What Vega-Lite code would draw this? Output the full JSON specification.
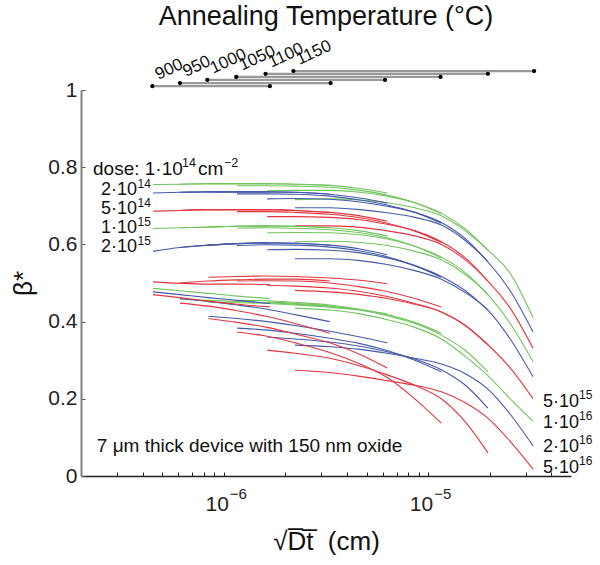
{
"$schema":"https://vega.github.io/schema/vega-lite/v6.json",
"autosize":{"type":"none"},
"padding":{"left":81,"top":90,"right":29,"bottom":89},
"width":490,"height":386,
"config":{"view":{"stroke":null},"font":"Liberation Sans","text":{"font":"Liberation Sans"}},
"title":{"text":"Annealing Temperature (°C)","fontSize":27,"font":"Liberation Sans","fontWeight":"normal","color":"#111","offset":6,"anchor":"middle"},
"datasets":{
"curves":[
{"d":"1e14","T":900,"x":4.5e-7,"y":0.755},{"d":"1e14","T":900,"x":6.1e-7,"y":0.756},{"d":"1e14","T":900,"x":8.4e-7,"y":0.757},{"d":"1e14","T":900,"x":1.16e-6,"y":0.757},{"d":"1e14","T":900,"x":1.68e-6,"y":0.757},
{"d":"1e14","T":950,"x":6.1e-7,"y":0.756},{"d":"1e14","T":950,"x":8.4e-7,"y":0.757},{"d":"1e14","T":950,"x":1.16e-6,"y":0.757},{"d":"1e14","T":950,"x":1.63e-6,"y":0.757},{"d":"1e14","T":950,"x":2.23e-6,"y":0.756},{"d":"1e14","T":950,"x":3.3e-6,"y":0.753},
{"d":"1e14","T":1000,"x":8.4e-7,"y":0.757},{"d":"1e14","T":1000,"x":1.16e-6,"y":0.757},{"d":"1e14","T":1000,"x":1.63e-6,"y":0.757},{"d":"1e14","T":1000,"x":2.23e-6,"y":0.756},{"d":"1e14","T":1000,"x":3.3e-6,"y":0.753},{"d":"1e14","T":1000,"x":4.64e-6,"y":0.745},{"d":"1e14","T":1000,"x":6.3e-6,"y":0.733},
{"d":"1e14","T":1050,"x":1.16e-6,"y":0.752},{"d":"1e14","T":1050,"x":1.63e-6,"y":0.752},{"d":"1e14","T":1050,"x":2.23e-6,"y":0.751},{"d":"1e14","T":1050,"x":3.3e-6,"y":0.748},{"d":"1e14","T":1050,"x":4.64e-6,"y":0.74},{"d":"1e14","T":1050,"x":6.3e-6,"y":0.728},{"d":"1e14","T":1050,"x":8.6e-6,"y":0.708},{"d":"1e14","T":1050,"x":1.16e-5,"y":0.679},
{"d":"1e14","T":1100,"x":1.63e-6,"y":0.739},{"d":"1e14","T":1100,"x":2.23e-6,"y":0.74},{"d":"1e14","T":1100,"x":3.3e-6,"y":0.74},{"d":"1e14","T":1100,"x":4.64e-6,"y":0.735},{"d":"1e14","T":1100,"x":6.3e-6,"y":0.725},{"d":"1e14","T":1100,"x":8.6e-6,"y":0.708},{"d":"1e14","T":1100,"x":1.16e-5,"y":0.681},{"d":"1e14","T":1100,"x":1.52e-5,"y":0.64},{"d":"1e14","T":1100,"x":1.96e-5,"y":0.585},
{"d":"1e14","T":1150,"x":2.23e-6,"y":0.716},{"d":"1e14","T":1150,"x":3.3e-6,"y":0.718},{"d":"1e14","T":1150,"x":4.64e-6,"y":0.715},{"d":"1e14","T":1150,"x":6.3e-6,"y":0.708},{"d":"1e14","T":1150,"x":8.6e-6,"y":0.695},{"d":"1e14","T":1150,"x":1.16e-5,"y":0.674},{"d":"1e14","T":1150,"x":1.52e-5,"y":0.635},{"d":"1e14","T":1150,"x":1.96e-5,"y":0.585},{"d":"1e14","T":1150,"x":2.52e-5,"y":0.525},{"d":"1e14","T":1150,"x":3.26e-5,"y":0.41},

{"d":"2e14","T":900,"x":4.5e-7,"y":0.733},{"d":"2e14","T":900,"x":6.1e-7,"y":0.735},{"d":"2e14","T":900,"x":8.4e-7,"y":0.736},{"d":"2e14","T":900,"x":1.16e-6,"y":0.736},{"d":"2e14","T":900,"x":1.68e-6,"y":0.736},
{"d":"2e14","T":950,"x":6.1e-7,"y":0.735},{"d":"2e14","T":950,"x":8.4e-7,"y":0.736},{"d":"2e14","T":950,"x":1.16e-6,"y":0.736},{"d":"2e14","T":950,"x":1.63e-6,"y":0.736},{"d":"2e14","T":950,"x":2.23e-6,"y":0.735},{"d":"2e14","T":950,"x":3.3e-6,"y":0.73},
{"d":"2e14","T":1000,"x":8.4e-7,"y":0.736},{"d":"2e14","T":1000,"x":1.16e-6,"y":0.736},{"d":"2e14","T":1000,"x":1.63e-6,"y":0.736},{"d":"2e14","T":1000,"x":2.23e-6,"y":0.735},{"d":"2e14","T":1000,"x":3.3e-6,"y":0.73},{"d":"2e14","T":1000,"x":4.64e-6,"y":0.72},{"d":"2e14","T":1000,"x":6.3e-6,"y":0.707},
{"d":"2e14","T":1050,"x":1.16e-6,"y":0.731},{"d":"2e14","T":1050,"x":1.63e-6,"y":0.731},{"d":"2e14","T":1050,"x":2.23e-6,"y":0.73},{"d":"2e14","T":1050,"x":3.3e-6,"y":0.725},{"d":"2e14","T":1050,"x":4.64e-6,"y":0.715},{"d":"2e14","T":1050,"x":6.3e-6,"y":0.702},{"d":"2e14","T":1050,"x":8.6e-6,"y":0.683},{"d":"2e14","T":1050,"x":1.16e-5,"y":0.655},
{"d":"2e14","T":1100,"x":1.63e-6,"y":0.718},{"d":"2e14","T":1100,"x":2.23e-6,"y":0.719},{"d":"2e14","T":1100,"x":3.3e-6,"y":0.717},{"d":"2e14","T":1100,"x":4.64e-6,"y":0.71},{"d":"2e14","T":1100,"x":6.3e-6,"y":0.699},{"d":"2e14","T":1100,"x":8.6e-6,"y":0.683},{"d":"2e14","T":1100,"x":1.16e-5,"y":0.657},{"d":"2e14","T":1100,"x":1.52e-5,"y":0.615},{"d":"2e14","T":1100,"x":1.96e-5,"y":0.555},
{"d":"2e14","T":1150,"x":2.23e-6,"y":0.695},{"d":"2e14","T":1150,"x":3.3e-6,"y":0.695},{"d":"2e14","T":1150,"x":4.64e-6,"y":0.69},{"d":"2e14","T":1150,"x":6.3e-6,"y":0.682},{"d":"2e14","T":1150,"x":8.6e-6,"y":0.67},{"d":"2e14","T":1150,"x":1.16e-5,"y":0.65},{"d":"2e14","T":1150,"x":1.52e-5,"y":0.61},{"d":"2e14","T":1150,"x":1.96e-5,"y":0.555},{"d":"2e14","T":1150,"x":2.52e-5,"y":0.48},{"d":"2e14","T":1150,"x":3.26e-5,"y":0.373},

{"d":"5e14","T":900,"x":4.5e-7,"y":0.686},{"d":"5e14","T":900,"x":6.1e-7,"y":0.688},{"d":"5e14","T":900,"x":8.4e-7,"y":0.69},{"d":"5e14","T":900,"x":1.16e-6,"y":0.69},{"d":"5e14","T":900,"x":1.68e-6,"y":0.69},
{"d":"5e14","T":950,"x":6.1e-7,"y":0.688},{"d":"5e14","T":950,"x":8.4e-7,"y":0.69},{"d":"5e14","T":950,"x":1.16e-6,"y":0.69},{"d":"5e14","T":950,"x":1.63e-6,"y":0.69},{"d":"5e14","T":950,"x":2.23e-6,"y":0.688},{"d":"5e14","T":950,"x":3.3e-6,"y":0.683},
{"d":"5e14","T":1000,"x":8.4e-7,"y":0.69},{"d":"5e14","T":1000,"x":1.16e-6,"y":0.69},{"d":"5e14","T":1000,"x":1.63e-6,"y":0.69},{"d":"5e14","T":1000,"x":2.23e-6,"y":0.688},{"d":"5e14","T":1000,"x":3.3e-6,"y":0.683},{"d":"5e14","T":1000,"x":4.64e-6,"y":0.674},{"d":"5e14","T":1000,"x":6.3e-6,"y":0.66},
{"d":"5e14","T":1050,"x":1.16e-6,"y":0.685},{"d":"5e14","T":1050,"x":1.63e-6,"y":0.685},{"d":"5e14","T":1050,"x":2.23e-6,"y":0.683},{"d":"5e14","T":1050,"x":3.3e-6,"y":0.678},{"d":"5e14","T":1050,"x":4.64e-6,"y":0.669},{"d":"5e14","T":1050,"x":6.3e-6,"y":0.655},{"d":"5e14","T":1050,"x":8.6e-6,"y":0.635},{"d":"5e14","T":1050,"x":1.16e-5,"y":0.605},
{"d":"5e14","T":1100,"x":1.63e-6,"y":0.672},{"d":"5e14","T":1100,"x":2.23e-6,"y":0.672},{"d":"5e14","T":1100,"x":3.3e-6,"y":0.67},{"d":"5e14","T":1100,"x":4.64e-6,"y":0.664},{"d":"5e14","T":1100,"x":6.3e-6,"y":0.652},{"d":"5e14","T":1100,"x":8.6e-6,"y":0.635},{"d":"5e14","T":1100,"x":1.16e-5,"y":0.607},{"d":"5e14","T":1100,"x":1.52e-5,"y":0.565},{"d":"5e14","T":1100,"x":1.96e-5,"y":0.505},
{"d":"5e14","T":1150,"x":2.23e-6,"y":0.648},{"d":"5e14","T":1150,"x":3.3e-6,"y":0.648},{"d":"5e14","T":1150,"x":4.64e-6,"y":0.644},{"d":"5e14","T":1150,"x":6.3e-6,"y":0.635},{"d":"5e14","T":1150,"x":8.6e-6,"y":0.622},{"d":"5e14","T":1150,"x":1.16e-5,"y":0.6},{"d":"5e14","T":1150,"x":1.52e-5,"y":0.56},{"d":"5e14","T":1150,"x":1.96e-5,"y":0.505},{"d":"5e14","T":1150,"x":2.52e-5,"y":0.435},{"d":"5e14","T":1150,"x":3.26e-5,"y":0.331},

{"d":"1e15","T":900,"x":4.5e-7,"y":0.641},{"d":"1e15","T":900,"x":6.1e-7,"y":0.643},{"d":"1e15","T":900,"x":8.4e-7,"y":0.645},{"d":"1e15","T":900,"x":1.16e-6,"y":0.647},{"d":"1e15","T":900,"x":1.68e-6,"y":0.648},
{"d":"1e15","T":950,"x":6.1e-7,"y":0.643},{"d":"1e15","T":950,"x":8.4e-7,"y":0.645},{"d":"1e15","T":950,"x":1.16e-6,"y":0.647},{"d":"1e15","T":950,"x":1.63e-6,"y":0.648},{"d":"1e15","T":950,"x":2.23e-6,"y":0.647},{"d":"1e15","T":950,"x":3.3e-6,"y":0.643},
{"d":"1e15","T":1000,"x":8.4e-7,"y":0.645},{"d":"1e15","T":1000,"x":1.16e-6,"y":0.647},{"d":"1e15","T":1000,"x":1.63e-6,"y":0.648},{"d":"1e15","T":1000,"x":2.23e-6,"y":0.647},{"d":"1e15","T":1000,"x":3.3e-6,"y":0.643},{"d":"1e15","T":1000,"x":4.64e-6,"y":0.635},{"d":"1e15","T":1000,"x":6.3e-6,"y":0.622},
{"d":"1e15","T":1050,"x":1.16e-6,"y":0.642},{"d":"1e15","T":1050,"x":1.63e-6,"y":0.643},{"d":"1e15","T":1050,"x":2.23e-6,"y":0.642},{"d":"1e15","T":1050,"x":3.3e-6,"y":0.638},{"d":"1e15","T":1050,"x":4.64e-6,"y":0.63},{"d":"1e15","T":1050,"x":6.3e-6,"y":0.617},{"d":"1e15","T":1050,"x":8.6e-6,"y":0.595},{"d":"1e15","T":1050,"x":1.16e-5,"y":0.565},
{"d":"1e15","T":1100,"x":1.63e-6,"y":0.63},{"d":"1e15","T":1100,"x":2.23e-6,"y":0.631},{"d":"1e15","T":1100,"x":3.3e-6,"y":0.63},{"d":"1e15","T":1100,"x":4.64e-6,"y":0.625},{"d":"1e15","T":1100,"x":6.3e-6,"y":0.614},{"d":"1e15","T":1100,"x":8.6e-6,"y":0.595},{"d":"1e15","T":1100,"x":1.16e-5,"y":0.567},{"d":"1e15","T":1100,"x":1.52e-5,"y":0.527},{"d":"1e15","T":1100,"x":1.96e-5,"y":0.47},
{"d":"1e15","T":1150,"x":2.23e-6,"y":0.607},{"d":"1e15","T":1150,"x":3.3e-6,"y":0.608},{"d":"1e15","T":1150,"x":4.64e-6,"y":0.605},{"d":"1e15","T":1150,"x":6.3e-6,"y":0.597},{"d":"1e15","T":1150,"x":8.6e-6,"y":0.582},{"d":"1e15","T":1150,"x":1.16e-5,"y":0.56},{"d":"1e15","T":1150,"x":1.52e-5,"y":0.522},{"d":"1e15","T":1150,"x":1.96e-5,"y":0.47},{"d":"1e15","T":1150,"x":2.52e-5,"y":0.395},{"d":"1e15","T":1150,"x":3.26e-5,"y":0.296},

{"d":"2e15","T":900,"x":4.5e-7,"y":0.582},{"d":"2e15","T":900,"x":6.1e-7,"y":0.592},{"d":"2e15","T":900,"x":8.4e-7,"y":0.598},{"d":"2e15","T":900,"x":1.16e-6,"y":0.602},{"d":"2e15","T":900,"x":1.68e-6,"y":0.604},
{"d":"2e15","T":950,"x":6.1e-7,"y":0.592},{"d":"2e15","T":950,"x":8.4e-7,"y":0.598},{"d":"2e15","T":950,"x":1.16e-6,"y":0.602},{"d":"2e15","T":950,"x":1.63e-6,"y":0.604},{"d":"2e15","T":950,"x":2.23e-6,"y":0.603},{"d":"2e15","T":950,"x":3.3e-6,"y":0.598},
{"d":"2e15","T":1000,"x":8.4e-7,"y":0.598},{"d":"2e15","T":1000,"x":1.16e-6,"y":0.602},{"d":"2e15","T":1000,"x":1.63e-6,"y":0.604},{"d":"2e15","T":1000,"x":2.23e-6,"y":0.603},{"d":"2e15","T":1000,"x":3.3e-6,"y":0.598},{"d":"2e15","T":1000,"x":4.64e-6,"y":0.588},{"d":"2e15","T":1000,"x":6.3e-6,"y":0.573},
{"d":"2e15","T":1050,"x":1.16e-6,"y":0.597},{"d":"2e15","T":1050,"x":1.63e-6,"y":0.599},{"d":"2e15","T":1050,"x":2.23e-6,"y":0.598},{"d":"2e15","T":1050,"x":3.3e-6,"y":0.593},{"d":"2e15","T":1050,"x":4.64e-6,"y":0.583},{"d":"2e15","T":1050,"x":6.3e-6,"y":0.568},{"d":"2e15","T":1050,"x":8.6e-6,"y":0.545},{"d":"2e15","T":1050,"x":1.16e-5,"y":0.515},
{"d":"2e15","T":1100,"x":1.63e-6,"y":0.586},{"d":"2e15","T":1100,"x":2.23e-6,"y":0.587},{"d":"2e15","T":1100,"x":3.3e-6,"y":0.585},{"d":"2e15","T":1100,"x":4.64e-6,"y":0.578},{"d":"2e15","T":1100,"x":6.3e-6,"y":0.565},{"d":"2e15","T":1100,"x":8.6e-6,"y":0.545},{"d":"2e15","T":1100,"x":1.16e-5,"y":0.517},{"d":"2e15","T":1100,"x":1.52e-5,"y":0.48},{"d":"2e15","T":1100,"x":1.96e-5,"y":0.43},
{"d":"2e15","T":1150,"x":2.23e-6,"y":0.563},{"d":"2e15","T":1150,"x":3.3e-6,"y":0.563},{"d":"2e15","T":1150,"x":4.64e-6,"y":0.558},{"d":"2e15","T":1150,"x":6.3e-6,"y":0.548},{"d":"2e15","T":1150,"x":8.6e-6,"y":0.532},{"d":"2e15","T":1150,"x":1.16e-5,"y":0.51},{"d":"2e15","T":1150,"x":1.52e-5,"y":0.475},{"d":"2e15","T":1150,"x":1.96e-5,"y":0.43},{"d":"2e15","T":1150,"x":2.52e-5,"y":0.355},{"d":"2e15","T":1150,"x":3.26e-5,"y":0.257},

{"d":"5e15","T":900,"x":4.5e-7,"y":0.503},{"d":"5e15","T":900,"x":6.1e-7,"y":0.499},{"d":"5e15","T":900,"x":8.4e-7,"y":0.497},{"d":"5e15","T":900,"x":1.16e-6,"y":0.497},{"d":"5e15","T":900,"x":1.68e-6,"y":0.496},
{"d":"5e15","T":950,"x":6.1e-7,"y":0.5},{"d":"5e15","T":950,"x":8.4e-7,"y":0.505},{"d":"5e15","T":950,"x":1.16e-6,"y":0.508},{"d":"5e15","T":950,"x":1.63e-6,"y":0.51},{"d":"5e15","T":950,"x":2.23e-6,"y":0.51},{"d":"5e15","T":950,"x":3.3e-6,"y":0.505},
{"d":"5e15","T":1000,"x":8.4e-7,"y":0.515},{"d":"5e15","T":1000,"x":1.16e-6,"y":0.517},{"d":"5e15","T":1000,"x":1.63e-6,"y":0.518},{"d":"5e15","T":1000,"x":2.23e-6,"y":0.517},{"d":"5e15","T":1000,"x":3.3e-6,"y":0.513},{"d":"5e15","T":1000,"x":4.64e-6,"y":0.507},{"d":"5e15","T":1000,"x":6.3e-6,"y":0.498},
{"d":"5e15","T":1050,"x":1.16e-6,"y":0.505},{"d":"5e15","T":1050,"x":1.63e-6,"y":0.506},{"d":"5e15","T":1050,"x":2.23e-6,"y":0.505},{"d":"5e15","T":1050,"x":3.3e-6,"y":0.5},{"d":"5e15","T":1050,"x":4.64e-6,"y":0.49},{"d":"5e15","T":1050,"x":6.3e-6,"y":0.478},{"d":"5e15","T":1050,"x":8.6e-6,"y":0.46},{"d":"5e15","T":1050,"x":1.16e-5,"y":0.438},
{"d":"5e15","T":1100,"x":1.63e-6,"y":0.494},{"d":"5e15","T":1100,"x":2.23e-6,"y":0.492},{"d":"5e15","T":1100,"x":3.3e-6,"y":0.487},{"d":"5e15","T":1100,"x":4.64e-6,"y":0.478},{"d":"5e15","T":1100,"x":6.3e-6,"y":0.465},{"d":"5e15","T":1100,"x":8.6e-6,"y":0.447},{"d":"5e15","T":1100,"x":1.16e-5,"y":0.425},{"d":"5e15","T":1100,"x":1.52e-5,"y":0.39},{"d":"5e15","T":1100,"x":1.96e-5,"y":0.34},
{"d":"5e15","T":1150,"x":2.23e-6,"y":0.481},{"d":"5e15","T":1150,"x":3.3e-6,"y":0.477},{"d":"5e15","T":1150,"x":4.64e-6,"y":0.47},{"d":"5e15","T":1150,"x":6.3e-6,"y":0.46},{"d":"5e15","T":1150,"x":8.6e-6,"y":0.445},{"d":"5e15","T":1150,"x":1.16e-5,"y":0.425},{"d":"5e15","T":1150,"x":1.52e-5,"y":0.39},{"d":"5e15","T":1150,"x":1.96e-5,"y":0.34},{"d":"5e15","T":1150,"x":2.52e-5,"y":0.28},{"d":"5e15","T":1150,"x":3.26e-5,"y":0.2},

{"d":"1e16","T":900,"x":4.5e-7,"y":0.486},{"d":"1e16","T":900,"x":6.1e-7,"y":0.48},{"d":"1e16","T":900,"x":8.4e-7,"y":0.473},{"d":"1e16","T":900,"x":1.16e-6,"y":0.466},{"d":"1e16","T":900,"x":1.68e-6,"y":0.46},
{"d":"1e16","T":950,"x":6.1e-7,"y":0.458},{"d":"1e16","T":950,"x":8.4e-7,"y":0.455},{"d":"1e16","T":950,"x":1.16e-6,"y":0.452},{"d":"1e16","T":950,"x":1.63e-6,"y":0.449},{"d":"1e16","T":950,"x":2.23e-6,"y":0.445},{"d":"1e16","T":950,"x":3.3e-6,"y":0.44},
{"d":"1e16","T":1000,"x":8.4e-7,"y":0.45},{"d":"1e16","T":1000,"x":1.16e-6,"y":0.449},{"d":"1e16","T":1000,"x":1.63e-6,"y":0.447},{"d":"1e16","T":1000,"x":2.23e-6,"y":0.443},{"d":"1e16","T":1000,"x":3.3e-6,"y":0.437},{"d":"1e16","T":1000,"x":4.64e-6,"y":0.43},{"d":"1e16","T":1000,"x":6.3e-6,"y":0.42},
{"d":"1e16","T":1050,"x":1.16e-6,"y":0.455},{"d":"1e16","T":1050,"x":1.63e-6,"y":0.454},{"d":"1e16","T":1050,"x":2.23e-6,"y":0.45},{"d":"1e16","T":1050,"x":3.3e-6,"y":0.443},{"d":"1e16","T":1050,"x":4.64e-6,"y":0.432},{"d":"1e16","T":1050,"x":6.3e-6,"y":0.418},{"d":"1e16","T":1050,"x":8.6e-6,"y":0.398},{"d":"1e16","T":1050,"x":1.16e-5,"y":0.37},
{"d":"1e16","T":1100,"x":1.63e-6,"y":0.451},{"d":"1e16","T":1100,"x":2.23e-6,"y":0.447},{"d":"1e16","T":1100,"x":3.3e-6,"y":0.44},{"d":"1e16","T":1100,"x":4.64e-6,"y":0.43},{"d":"1e16","T":1100,"x":6.3e-6,"y":0.415},{"d":"1e16","T":1100,"x":8.6e-6,"y":0.395},{"d":"1e16","T":1100,"x":1.16e-5,"y":0.365},{"d":"1e16","T":1100,"x":1.52e-5,"y":0.325},{"d":"1e16","T":1100,"x":1.96e-5,"y":0.27},
{"d":"1e16","T":1150,"x":2.23e-6,"y":0.435},{"d":"1e16","T":1150,"x":3.3e-6,"y":0.43},{"d":"1e16","T":1150,"x":4.64e-6,"y":0.42},{"d":"1e16","T":1150,"x":6.3e-6,"y":0.405},{"d":"1e16","T":1150,"x":8.6e-6,"y":0.385},{"d":"1e16","T":1150,"x":1.16e-5,"y":0.355},{"d":"1e16","T":1150,"x":1.52e-5,"y":0.31},{"d":"1e16","T":1150,"x":1.96e-5,"y":0.26},{"d":"1e16","T":1150,"x":2.52e-5,"y":0.2},{"d":"1e16","T":1150,"x":3.26e-5,"y":0.142},

{"d":"2e16","T":900,"x":4.5e-7,"y":0.477},{"d":"2e16","T":900,"x":6.1e-7,"y":0.47},{"d":"2e16","T":900,"x":8.4e-7,"y":0.462},{"d":"2e16","T":900,"x":1.16e-6,"y":0.455},{"d":"2e16","T":900,"x":1.68e-6,"y":0.447},
{"d":"2e16","T":950,"x":6.1e-7,"y":0.46},{"d":"2e16","T":950,"x":8.4e-7,"y":0.452},{"d":"2e16","T":950,"x":1.16e-6,"y":0.443},{"d":"2e16","T":950,"x":1.63e-6,"y":0.432},{"d":"2e16","T":950,"x":2.23e-6,"y":0.418},{"d":"2e16","T":950,"x":3.3e-6,"y":0.4},
{"d":"2e16","T":1000,"x":8.4e-7,"y":0.414},{"d":"2e16","T":1000,"x":1.16e-6,"y":0.408},{"d":"2e16","T":1000,"x":1.63e-6,"y":0.4},{"d":"2e16","T":1000,"x":2.23e-6,"y":0.39},{"d":"2e16","T":1000,"x":3.3e-6,"y":0.375},{"d":"2e16","T":1000,"x":4.64e-6,"y":0.36},{"d":"2e16","T":1000,"x":6.3e-6,"y":0.345},
{"d":"2e16","T":1050,"x":1.16e-6,"y":0.383},{"d":"2e16","T":1050,"x":1.63e-6,"y":0.378},{"d":"2e16","T":1050,"x":2.23e-6,"y":0.37},{"d":"2e16","T":1050,"x":3.3e-6,"y":0.357},{"d":"2e16","T":1050,"x":4.64e-6,"y":0.343},{"d":"2e16","T":1050,"x":6.3e-6,"y":0.325},{"d":"2e16","T":1050,"x":8.6e-6,"y":0.3},{"d":"2e16","T":1050,"x":1.16e-5,"y":0.27},
{"d":"2e16","T":1100,"x":1.63e-6,"y":0.36},{"d":"2e16","T":1100,"x":2.23e-6,"y":0.355},{"d":"2e16","T":1100,"x":3.3e-6,"y":0.347},{"d":"2e16","T":1100,"x":4.64e-6,"y":0.336},{"d":"2e16","T":1100,"x":6.3e-6,"y":0.322},{"d":"2e16","T":1100,"x":8.6e-6,"y":0.303},{"d":"2e16","T":1100,"x":1.16e-5,"y":0.275},{"d":"2e16","T":1100,"x":1.52e-5,"y":0.235},{"d":"2e16","T":1100,"x":1.96e-5,"y":0.176},
{"d":"2e16","T":1150,"x":2.23e-6,"y":0.339},{"d":"2e16","T":1150,"x":3.3e-6,"y":0.335},{"d":"2e16","T":1150,"x":4.64e-6,"y":0.328},{"d":"2e16","T":1150,"x":6.3e-6,"y":0.318},{"d":"2e16","T":1150,"x":8.6e-6,"y":0.305},{"d":"2e16","T":1150,"x":1.16e-5,"y":0.29},{"d":"2e16","T":1150,"x":1.52e-5,"y":0.265},{"d":"2e16","T":1150,"x":1.96e-5,"y":0.225},{"d":"2e16","T":1150,"x":2.52e-5,"y":0.16},{"d":"2e16","T":1150,"x":3.26e-5,"y":0.078},

{"d":"5e16","T":900,"x":4.5e-7,"y":0.47},{"d":"5e16","T":900,"x":6.1e-7,"y":0.462},{"d":"5e16","T":900,"x":8.4e-7,"y":0.453},{"d":"5e16","T":900,"x":1.16e-6,"y":0.445},{"d":"5e16","T":900,"x":1.68e-6,"y":0.438},
{"d":"5e16","T":950,"x":6.1e-7,"y":0.448},{"d":"5e16","T":950,"x":8.4e-7,"y":0.44},{"d":"5e16","T":950,"x":1.16e-6,"y":0.428},{"d":"5e16","T":950,"x":1.63e-6,"y":0.413},{"d":"5e16","T":950,"x":2.23e-6,"y":0.395},{"d":"5e16","T":950,"x":3.3e-6,"y":0.37},
{"d":"5e16","T":1000,"x":8.4e-7,"y":0.408},{"d":"5e16","T":1000,"x":1.16e-6,"y":0.398},{"d":"5e16","T":1000,"x":1.63e-6,"y":0.385},{"d":"5e16","T":1000,"x":2.23e-6,"y":0.368},{"d":"5e16","T":1000,"x":3.3e-6,"y":0.345},{"d":"5e16","T":1000,"x":4.64e-6,"y":0.315},{"d":"5e16","T":1000,"x":6.3e-6,"y":0.28},
{"d":"5e16","T":1050,"x":1.16e-6,"y":0.373},{"d":"5e16","T":1050,"x":1.63e-6,"y":0.362},{"d":"5e16","T":1050,"x":2.23e-6,"y":0.345},{"d":"5e16","T":1050,"x":3.3e-6,"y":0.32},{"d":"5e16","T":1050,"x":4.64e-6,"y":0.29},{"d":"5e16","T":1050,"x":6.3e-6,"y":0.255},{"d":"5e16","T":1050,"x":8.6e-6,"y":0.2},{"d":"5e16","T":1050,"x":1.16e-5,"y":0.137},
{"d":"5e16","T":1100,"x":1.63e-6,"y":0.326},{"d":"5e16","T":1100,"x":2.23e-6,"y":0.318},{"d":"5e16","T":1100,"x":3.3e-6,"y":0.305},{"d":"5e16","T":1100,"x":4.64e-6,"y":0.285},{"d":"5e16","T":1100,"x":6.3e-6,"y":0.262},{"d":"5e16","T":1100,"x":8.6e-6,"y":0.235},{"d":"5e16","T":1100,"x":1.16e-5,"y":0.2},{"d":"5e16","T":1100,"x":1.52e-5,"y":0.14},{"d":"5e16","T":1100,"x":1.96e-5,"y":0.06},
{"d":"5e16","T":1150,"x":2.23e-6,"y":0.274},{"d":"5e16","T":1150,"x":3.3e-6,"y":0.268},{"d":"5e16","T":1150,"x":4.64e-6,"y":0.258},{"d":"5e16","T":1150,"x":6.3e-6,"y":0.247},{"d":"5e16","T":1150,"x":8.6e-6,"y":0.235},{"d":"5e16","T":1150,"x":1.16e-5,"y":0.218},{"d":"5e16","T":1150,"x":1.52e-5,"y":0.19},{"d":"5e16","T":1150,"x":1.96e-5,"y":0.15},{"d":"5e16","T":1150,"x":2.52e-5,"y":0.09},{"d":"5e16","T":1150,"x":3.26e-5,"y":0.018}
],
"temps":[
{"T":"900","x":4.47e-7,"xe":1.68e-6,"y":1.01},
{"T":"950","x":6.1e-7,"xe":3.33e-6,"y":1.018},
{"T":"1000","x":8.3e-7,"xe":6.15e-6,"y":1.026},
{"T":"1050","x":1.15e-6,"xe":1.15e-5,"y":1.034},
{"T":"1100","x":1.6e-6,"xe":1.96e-5,"y":1.042},
{"T":"1150","x":2.19e-6,"xe":3.3e-5,"y":1.049}
],
"leftLabels":[
{"b":"2·10","e":"14","x":4.45e-7,"y":0.727},
{"b":"5·10","e":"14","x":4.45e-7,"y":0.678},
{"b":"1·10","e":"15","x":4.45e-7,"y":0.629},
{"b":"2·10","e":"15","x":4.45e-7,"y":0.58}
],
"rightLabels":[
{"b":"5·10","e":"15","x":3.65e-5,"y":0.178},
{"b":"1·10","e":"16","x":3.65e-5,"y":0.124},
{"b":"2·10","e":"16","x":3.65e-5,"y":0.062},
{"b":"5·10","e":"16","x":3.65e-5,"y":0.008}
],
"doseNote":[
{"p1":"dose: 1·10","p2":"14","p3":"cm","p4":"−2","x":2.29e-7,"y":0.781}
],
"notes":[
{"t":"7 μm thick device with 150 nm oxide","x":2.39e-7,"y":0.062}
],
"xlab":[
{"b":"10","e":"−6","x":1e-6,"y":0},
{"b":"10","e":"−5","x":1e-5,"y":0}
]
},
"encoding":{
"x":{"field":"x","type":"quantitative","scale":{"type":"log","domain":[2e-7,5e-5],"nice":false},
"axis":{"values":[3e-7,4e-7,5e-7,6e-7,7e-7,8e-7,9e-7,1e-6,2e-6,3e-6,4e-6,5e-6,6e-6,7e-6,8e-6,9e-6,1e-5,2e-5,3e-5,4e-5],
"labels":false,"grid":false,"tickSize":-4,
"domainColor":"#222","domainWidth":1.5,"tickColor":"#222",
"title":"√D̅t̅\u00a0\u00a0(cm)","titleFontSize":26,"titleFont":"Liberation Sans","titleFontWeight":"normal","titleColor":"#111","titlePadding":52}},
"y":{"field":"y","type":"quantitative","scale":{"domain":[0,1],"nice":false,"zero":false},
"axis":{"values":[0,0.2,0.4,0.6,0.8,1],"format":"~g","grid":false,"tickSize":-4,"labelPadding":8,"labelFontSize":21,"labelFont":"Liberation Sans","labelColor":"#222",
"domainColor":"#808080","domainWidth":2,"tickColor":"#555",
"title":"β*","titleFontSize":26,"titleFont":"Liberation Sans","titleFontWeight":"normal","titleColor":"#111","titlePadding":11}}
},
"layer":[
{"data":{"name":"curves"},"mark":{"type":"line","strokeWidth":1.1,"interpolate":"monotone"},
"encoding":{"color":{"field":"d","type":"nominal","scale":{"domain":["1e14","2e14","5e14","1e15","2e15","5e15","1e16","2e16","5e16"],"range":["#72c45e","#4459a8","#e3363f","#72c45e","#4459a8","#e3363f","#72c45e","#4459a8","#e3363f"]},"legend":null},
"detail":[{"field":"d"},{"field":"T"}],"order":{"field":"x","type":"quantitative"}}},
{"data":{"name":"temps"},"mark":{"type":"rule","color":"#999","strokeWidth":2.2},"encoding":{"x2":{"field":"xe"}}},
{"data":{"name":"temps"},"mark":{"type":"point","filled":true,"color":"#000","size":18,"opacity":1},"encoding":{}},
{"data":{"name":"temps"},"mark":{"type":"point","filled":true,"color":"#000","size":18,"opacity":1},"encoding":{"x":{"field":"xe","type":"quantitative"}}},
{"data":{"name":"temps"},"mark":{"type":"text","align":"left","baseline":"alphabetic","angle":-25,"dx":8,"dy":-3,"fontSize":17,"color":"#111"},"encoding":{"text":{"field":"T"}}},
{"data":{"name":"leftLabels"},"mark":{"type":"text","align":"right","baseline":"alphabetic","dx":-15,"fontSize":18,"color":"#111"},"encoding":{"text":{"field":"b"}}},
{"data":{"name":"leftLabels"},"mark":{"type":"text","align":"right","baseline":"alphabetic","dx":-1,"dy":-7,"fontSize":12,"color":"#111"},"encoding":{"text":{"field":"e"}}},
{"data":{"name":"rightLabels"},"mark":{"type":"text","align":"left","baseline":"alphabetic","fontSize":18,"color":"#111"},"encoding":{"text":{"field":"b"}}},
{"data":{"name":"rightLabels"},"mark":{"type":"text","align":"left","baseline":"alphabetic","dx":36,"dy":-8,"fontSize":12,"color":"#111"},"encoding":{"text":{"field":"e"}}},
{"data":{"name":"doseNote"},"mark":{"type":"text","align":"left","baseline":"alphabetic","fontSize":19,"color":"#111"},"encoding":{"text":{"field":"p1"}}},
{"data":{"name":"doseNote"},"mark":{"type":"text","align":"left","baseline":"alphabetic","dx":89,"dy":-8,"fontSize":12.5,"color":"#111"},"encoding":{"text":{"field":"p2"}}},
{"data":{"name":"doseNote"},"mark":{"type":"text","align":"left","baseline":"alphabetic","dx":105,"fontSize":19,"color":"#111"},"encoding":{"text":{"field":"p3"}}},
{"data":{"name":"doseNote"},"mark":{"type":"text","align":"left","baseline":"alphabetic","dx":131,"dy":-8,"fontSize":12.5,"color":"#111"},"encoding":{"text":{"field":"p4"}}},
{"data":{"name":"notes"},"mark":{"type":"text","align":"left","baseline":"alphabetic","fontSize":19,"color":"#111"},"encoding":{"text":{"field":"t"}}},
{"data":{"name":"xlab"},"mark":{"type":"text","align":"right","baseline":"alphabetic","dx":5,"dy":35,"fontSize":21,"color":"#222"},"encoding":{"text":{"field":"b"}}},
{"data":{"name":"xlab"},"mark":{"type":"text","align":"left","baseline":"alphabetic","dx":6,"dy":23,"fontSize":15,"color":"#222"},"encoding":{"text":{"field":"e"}}}
]
}
